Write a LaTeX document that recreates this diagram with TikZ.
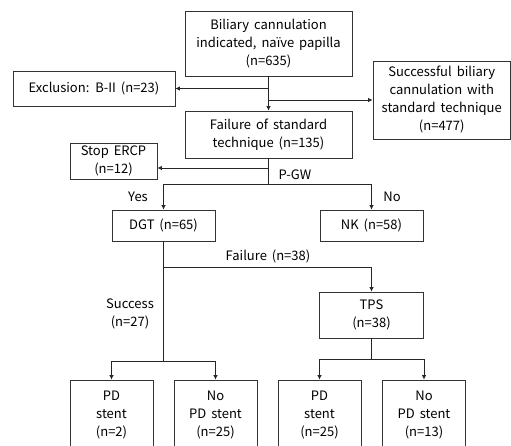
\documentclass[tikz,border=0pt]{standalone}
\usepackage{fontspec}
\setmainfont[WordSpace=1.7]{Noto Sans CJK KR}
\usetikzlibrary{arrows.meta}
\begin{document}
\begin{tikzpicture}[x=1pt,y=-1pt,
  box/.style={draw=black!80, line width=0.8pt, inner sep=0pt, align=center, font=\fontsize{13}{18}\selectfont},
  lbl/.style={inner sep=0pt, align=center, font=\fontsize{13}{18}\selectfont},
  conn/.style={line width=0.8pt, draw=black!85},
  arr/.style={conn, -{Latex[length=4.5pt,width=4.5pt]}}]
\path[use as bounding box] (0,0) rectangle (511,445);
\clip (0,0) rectangle (511,445);
\node[box, minimum width=167pt, minimum height=65pt] (top) at (268.5,43.5) {Biliary cannulation\\indicated, naïve papilla\\(n=635)};
\node[box, minimum width=162pt, minimum height=35pt] (excl) at (94,88.5) {Exclusion: B-II (n=23)};
\node[box, minimum width=137.5pt, minimum height=78pt] (succ) at (441.75,100) {Successful biliary\\cannulation with\\standard technique\\(n=477)};
\node[box, minimum width=167pt, minimum height=47pt] (fail) at (268.5,134.5) {Failure of standard\\technique (n=135)};
\node[box, minimum width=87pt, minimum height=36pt] (stop) at (113.5,161) {Stop ERCP\\(n=12)};
\node[box, minimum width=103pt, minimum height=31pt] (dgt) at (163.5,225.5) {DGT (n=65)};
\node[box, minimum width=103pt, minimum height=31pt] (nk) at (371.5,225.5) {NK (n=58)};
\node[box, minimum width=104pt, minimum height=46pt] (tps) at (371.5,315) {TPS\\(n=38)};
\node[box, minimum width=83pt, minimum height=70pt] (b1) at (111.5,415) {PD\\stent\\(n=2)};
\node[box, minimum width=83pt, minimum height=70pt] (b2) at (215.5,415) {No\\PD stent\\(n=25)};
\node[box, minimum width=83pt, minimum height=70pt] (b3) at (319.5,415) {PD\\stent\\(n=25)};
\node[box, minimum width=83pt, minimum height=70pt] (b4) at (424,415) {No\\PD stent\\(n=13)};
\node[lbl] (pgw) at (295,175) {P-GW};
\node[lbl] (yes) at (138,197) {Yes};
\node[lbl] (no) at (392,197) {No};
\node[lbl] (fl) at (268,256) {Failure (n=38)};
\node[lbl] (sl) at (130,314) {Success\\(n=27)};
\coordinate (stopin) at (157.4,168);
\coordinate (pg) at (268.5,184);
\coordinate (dj) at (163.5,267);
\coordinate (dl) at (163.5,361);
\coordinate (tl) at (371.5,359);
\draw[arr] (top.south) -- (fail.north);
\draw[arr] (top.south |- excl.east) -- (excl.east);
\draw[arr] (top.south |- succ.west) -- (succ.west);
\draw[conn] (fail.south) -- (pg);
\draw[arr] (fail.south |- stopin) -- (stopin);
\draw[arr] (pg) -| (dgt.north);
\draw[arr] (pg) -| (nk.north);
\draw[conn] (dgt.south) -- (dl);
\draw[arr] (dj) -| (tps.north);
\draw[arr] (dl) -| (b1.north);
\draw[arr] (dl) -| (b2.north);
\draw[conn] (tps.south) -- (tl);
\draw[arr] (tl) -| (b3.north);
\draw[arr] (tl) -| (b4.north);
\end{tikzpicture}
\end{document}
